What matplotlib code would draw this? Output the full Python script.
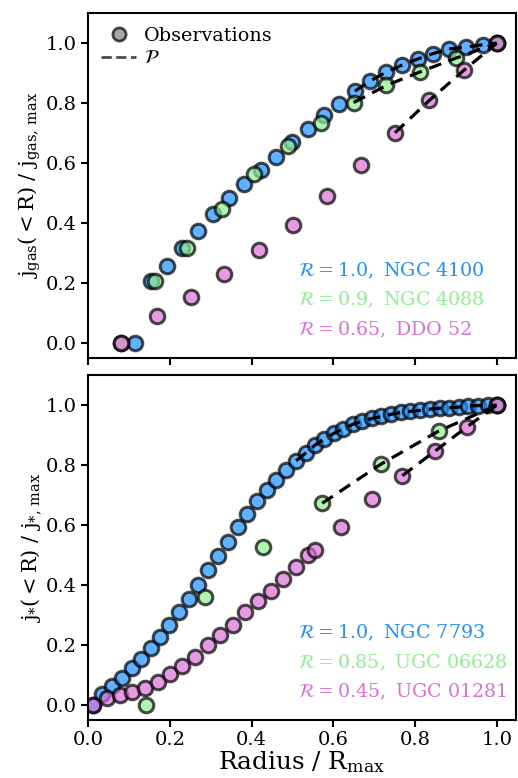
import matplotlib
matplotlib.use("Agg")
import matplotlib.pyplot as plt
from matplotlib.lines import Line2D

plt.rcParams['font.family'] = ['DejaVu Serif']
plt.rcParams['mathtext.fontset'] = 'dejavuserif'

# ---------------- top panel: gas ----------------
gas_blue_x = [0.115, 0.153, 0.192, 0.229, 0.268, 0.306, 0.346, 0.382, 0.423, 0.461, 0.500,
              0.537, 0.578, 0.614, 0.653, 0.689, 0.730, 0.767, 0.808, 0.844, 0.883, 0.924, 0.967, 1.0]
gas_blue_y = [0.0, 0.205, 0.258, 0.316, 0.375, 0.430, 0.482, 0.530, 0.577, 0.621, 0.669,
              0.713, 0.762, 0.798, 0.840, 0.873, 0.904, 0.926, 0.948, 0.965, 0.981, 0.987, 0.995, 1.0]
gas_green_x = [0.080, 0.164, 0.243, 0.327, 0.406, 0.490, 0.569, 0.650, 0.730, 0.812, 0.900, 1.0]
gas_green_y = [0.0, 0.205, 0.318, 0.447, 0.563, 0.657, 0.735, 0.802, 0.859, 0.904, 0.950, 1.0]
gas_pink_x = [0.080, 0.168, 0.251, 0.333, 0.418, 0.502, 0.584, 0.669, 0.751, 0.835, 0.919, 1.0]
gas_pink_y = [0.0, 0.089, 0.153, 0.229, 0.310, 0.394, 0.491, 0.595, 0.701, 0.809, 0.909, 1.0]

gas_model_blue_x = [0.653, 0.689, 0.730, 0.767, 0.808, 0.844, 0.883, 0.924, 0.967, 1.0]
gas_model_blue_y = [0.840, 0.873, 0.904, 0.926, 0.948, 0.965, 0.981, 0.987, 0.995, 1.0]
gas_model_green_x = [0.650, 0.730, 0.812, 0.900, 1.0]
gas_model_green_y = [0.802, 0.859, 0.904, 0.950, 1.0]
gas_model_pink_x = [0.751, 0.835, 0.919, 1.0]
gas_model_pink_y = [0.701, 0.809, 0.909, 1.0]

gas_labels = [r'$\mathcal{R} = 1.0,\ \mathrm{NGC\ 4100}$',
              r'$\mathcal{R} = 0.9,\ \mathrm{NGC\ 4088}$',
              r'$\mathcal{R} = 0.65,\ \mathrm{DDO\ 52}$']

# ---------------- bottom panel: stars ----------------
st_blue_x = [0.013, 0.033, 0.058, 0.082, 0.107, 0.130, 0.153, 0.176, 0.199, 0.223, 0.247,
             0.270, 0.294, 0.317, 0.342, 0.366, 0.390, 0.414, 0.437, 0.461, 0.484, 0.509,
             0.533, 0.555, 0.578, 0.601, 0.624, 0.649, 0.671, 0.695, 0.718, 0.742, 0.765,
             0.789, 0.813, 0.836, 0.860, 0.883, 0.907, 0.930, 0.954, 0.979, 1.0]
st_blue_y = [0.0, 0.036, 0.063, 0.091, 0.122, 0.154, 0.189, 0.226, 0.266, 0.309, 0.355,
             0.401, 0.449, 0.498, 0.545, 0.595, 0.638, 0.679, 0.717, 0.751, 0.784, 0.815,
             0.841, 0.867, 0.887, 0.906, 0.922, 0.937, 0.947, 0.956, 0.963, 0.970, 0.976,
             0.980, 0.983, 0.987, 0.990, 0.992, 0.994, 0.997, 0.999, 1.0, 1.0]
st_green_x = [0.143, 0.286, 0.429, 0.573, 0.716, 0.858, 1.0]
st_green_y = [0.0, 0.360, 0.526, 0.673, 0.803, 0.914, 1.0]
st_pink_x = [0.013, 0.046, 0.077, 0.108, 0.139, 0.170, 0.200, 0.231, 0.262, 0.293, 0.323,
             0.354, 0.384, 0.415, 0.447, 0.478, 0.509, 0.539, 0.555, 0.618, 0.695, 0.769,
             0.850, 0.927, 1.0]
st_pink_y = [0.0, 0.022, 0.032, 0.044, 0.058, 0.078, 0.104, 0.130, 0.161, 0.199, 0.233,
             0.268, 0.309, 0.346, 0.381, 0.421, 0.462, 0.501, 0.518, 0.593, 0.686, 0.765,
             0.848, 0.928, 1.0]

st_model_blue_x = [0.509, 0.533, 0.555, 0.578, 0.601, 0.624, 0.649, 0.671, 0.695, 0.718,
                   0.742, 0.765, 0.789, 0.813, 0.836, 0.860, 0.883, 0.907, 0.930, 0.954, 0.979, 1.0]
st_model_blue_y = [0.815, 0.841, 0.867, 0.887, 0.906, 0.922, 0.937, 0.947, 0.956, 0.963,
                   0.970, 0.976, 0.980, 0.983, 0.987, 0.990, 0.992, 0.994, 0.997, 0.999, 1.0, 1.0]
st_model_green_x = [0.573, 0.716, 0.858, 1.0]
st_model_green_y = [0.673, 0.803, 0.914, 1.0]
st_model_pink_x = [0.769, 0.850, 0.927, 1.0]
st_model_pink_y = [0.765, 0.848, 0.928, 1.0]

st_labels = [r'$\mathcal{R} = 1.0,\ \mathrm{NGC\ 7793}$',
             r'$\mathcal{R} = 0.85,\ \mathrm{UGC\ 06628}$',
             r'$\mathcal{R} = 0.45,\ \mathrm{UGC\ 01281}$']

colors = ['dodgerblue', 'lightgreen', 'orchid']
xticks = [0.0, 0.2, 0.4, 0.6, 0.8, 1.0]
yticks = [0.0, 0.2, 0.4, 0.6, 0.8, 1.0]

fig = plt.figure(figsize=(5.18, 7.78), dpi=100)
ax1 = fig.add_axes([0.170, 0.540, 0.826, 0.443])
ax2 = fig.add_axes([0.170, 0.0746, 0.826, 0.443])

mk = dict(marker='o', ls='none', ms=10.5, mec='k', mew=2.2, alpha=0.7)
dl = dict(color='k', ls='--', lw=2.3, zorder=5, dashes=(4, 2.5))


def panel(ax, obs, models, labels, ylabel):
    for (x, y), c in zip(obs, colors):
        ax.plot(x, y, mfc=c, **mk)
    for (x, y) in models:
        ax.plot(x, y, **dl)
    for i, (lab, c) in enumerate(zip(labels, colors)):
        ax.text(0.49, 0.252 - 0.085 * i, lab, color=c, fontsize=13.7,
                transform=ax.transAxes, ha='left', va='center')
    ax.set_xlim(0, 1.047)
    ax.set_ylim(-0.05, 1.1)
    ax.set_xticks(xticks)
    ax.set_yticks(yticks)
    ax.set_ylabel(ylabel, fontsize=15, labelpad=2)
    ax.tick_params(labelsize=14, width=1.5, length=5, direction='out', pad=3)
    for s in ax.spines.values():
        s.set_linewidth(1.5)


panel(ax1,
      [(gas_blue_x, gas_blue_y), (gas_green_x, gas_green_y), (gas_pink_x, gas_pink_y)],
      [(gas_model_blue_x, gas_model_blue_y), (gas_model_green_x, gas_model_green_y),
       (gas_model_pink_x, gas_model_pink_y)],
      gas_labels, r'j$_{\rm gas}$($<$R) / j$_{\rm gas,\,max}$')
ax1.tick_params(labelbottom=False)

panel(ax2,
      [(st_blue_x, st_blue_y), (st_green_x, st_green_y), (st_pink_x, st_pink_y)],
      [(st_model_blue_x, st_model_blue_y), (st_model_green_x, st_model_green_y),
       (st_model_pink_x, st_model_pink_y)],
      st_labels, r'j$_{*}$($<$R) / j$_{*,\,\rm max}$')
ax2.set_xlabel(r'Radius / R$_{\rm max}$', fontsize=17.8, labelpad=0)

handles = [Line2D([], [], marker='o', ls='none', ms=9.5, mfc='gray', mec='k', mew=2.0, alpha=0.7),
           Line2D([], [], color='k', ls='--', lw=2.0, alpha=0.7)]
ax1.legend(handles, ['Observations', r'$\mathcal{P}$'], loc='upper left', frameon=False,
           fontsize=13.8, handlelength=1.8, handletextpad=0.4, borderaxespad=0.3,
           labelspacing=0.25)

fig.savefig('out.png', dpi=100)
